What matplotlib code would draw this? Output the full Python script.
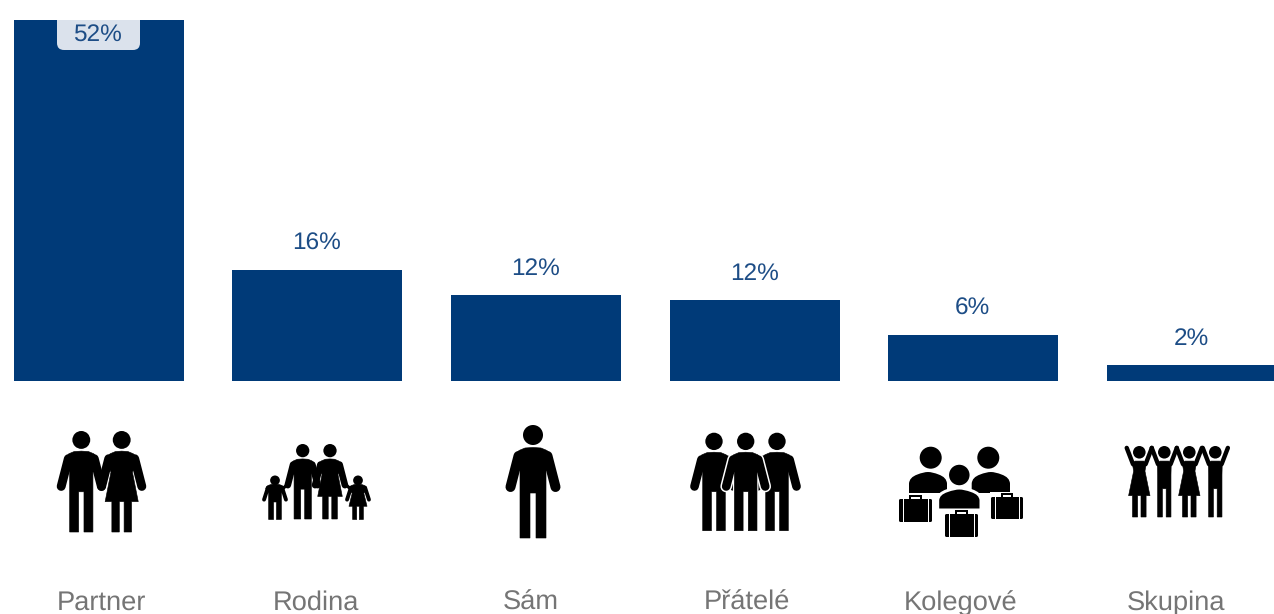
import matplotlib
matplotlib.use('Agg')
import matplotlib.pyplot as plt
from matplotlib.patches import Polygon, Circle, Rectangle, FancyBboxPatch, PathPatch
from matplotlib.path import Path

plt.rcParams['font.family'] = ['Liberation Sans', 'DejaVu Sans']
plt.rcParams['text.hinting'] = 'no_hinting'

# Data
categories = ['Partner', 'Rodina', 'Sám', 'Přátelé', 'Kolegové', 'Skupina']
values = [52, 16, 12.4, 11.7, 6.6, 2.3]
value_labels = ['52%', '16%', '12%', '12%', '6%', '2%']

BLUE = '#003a78'
TEXT_BLUE = '#1d4d86'
GREY = '#757575'
W, H = 1274, 614
PX = 72 / 100  # one pixel in points

fig = plt.figure(figsize=(W / 100, H / 100), dpi=100, facecolor='white')

# main axes, scaled so the bars land where they do in the picture
ax = fig.add_axes([0, 0, 1, 1])
step = 218.6
per_unit = 6.94
ax.set_xlim(-98.8 / step, (W - 98.8) / step)
ax.set_ylim(-(H - 381) / per_unit, 381 / per_unit)
ax.axis('off')
bars = ax.bar(range(len(values)), values, width=170 / step, color=BLUE, linewidth=0)

for i, (v, lab) in enumerate(zip(values, value_labels)):
    if i == 0:
        continue
    ax.annotate(lab, (i, v), xytext=(-0.5 * PX, 20 * PX), textcoords='offset points',
                ha='center', va='baseline', fontsize=17.6, color=TEXT_BLUE)

# overlay in pixel coordinates for the pictograms and category names
pic = fig.add_axes([0, 0, 1, 1], facecolor='none')
pic.set_xlim(0, W)
pic.set_ylim(H, 0)
pic.axis('off')

# label box on the first bar, only the lower corners show
box = FancyBboxPatch((57, 5), 83, 45, boxstyle='round,pad=0,rounding_size=7',
                     fc='#dbe2ec', ec='none', zorder=5)
pic.add_patch(box)
box.set_clip_path(Rectangle((0, 20), W, 60, transform=pic.transData))
pic.text(97.5, 42, value_labels[0], ha='center', va='baseline', fontsize=17.6,
         color=TEXT_BLUE, zorder=6)

label_x = [101, 316, 531, 746.5, 961, 1176.5]
for x, name in zip(label_x, categories):
    pic.text(x, 610, name, ha='center', va='baseline', fontsize=19.6, color=GREY)


MAN = [(0, 22.5), (8, 23), (14, 25.5), (18, 30), (19, 34), (13, 46), (13, 113), (3, 113), (3, 68),
       (-3, 68), (-3, 113), (-13, 113), (-13, 46), (-19, 34), (-18, 30), (-14, 25.5), (-8, 23)]
WOMAN = [(0, 22.5), (7, 23), (13, 25.5), (17, 30), (18, 34), (12, 46), (18.5, 79), (11, 79), (11, 113),
         (2.7, 113), (2.7, 79), (-2.7, 79), (-2.7, 113), (-11, 113), (-11, 79),
         (-18.5, 79), (-12, 46), (-18, 34), (-17, 30), (-13, 25.5), (-7, 23)]
MAN_UP = [(-7, 24), (7, 24), (11, 28), (10.6, 46), (10.6, 113), (3, 113), (3, 68),
          (-3, 68), (-3, 113), (-10.6, 113), (-10.6, 46), (-11, 28)]
WOMAN_UP = [(-7, 24), (7, 24), (11, 28), (9, 40), (17, 79), (10.8, 79), (10.8, 113), (2.7, 113),
            (2.7, 79), (-2.7, 79), (-2.7, 113), (-10.8, 113), (-10.8, 79), (-17, 79), (-9, 40),
            (-11, 28)]


def person(cx, top, h, woman=False, up=False, halo=0, z=3, wx=1.0, head=1.0):
    """Draw one standing figure, h is the height in pixels"""
    s = h / 113
    if up:
        shape = WOMAN_UP if woman else MAN_UP
        arms = [((10, 29), (20, 3)), ((-10, 29), (-20, 3))]
        arm_w = 7 * s
    else:
        shape = WOMAN if woman else MAN
        arms = [((14.5, 31), (22.5, 62)), ((-14.5, 31), (-22.5, 62))]
        arm_w = 10 * s
    pts = [(cx + x * s * wx, top + y * s) for x, y in shape]
    arm_pts = [[(cx + x * s * wx, top + y * s) for x, y in a] for a in arms]
    if halo:
        pic.add_patch(Polygon(pts, closed=True, fc='white', ec='white', lw=2 * halo * PX,
                              joinstyle='round', zorder=z))
        for a in arm_pts:
            pic.plot(*zip(*a), color='white', lw=(arm_w + 2 * halo) * PX,
                     solid_capstyle='round', zorder=z)
    pic.add_patch(Polygon(pts, closed=True, fc='black', ec='black', lw=0.6 * PX,
                          joinstyle='round', zorder=z + 0.1))
    for a in arm_pts:
        pic.plot(*zip(*a), color='black', lw=arm_w * PX, solid_capstyle='round', zorder=z + 0.1)
    r = 10 * s * head
    pic.add_patch(Circle((cx, top + r), r, fc='black', ec='none', zorder=z + 0.1))


def bust(x0, x1, y0, y1, halo=0, z=3):
    """Head and shoulders outline used in the colleagues icon"""
    mid = (x0 + x1) / 2
    w = x1 - x0
    h = y1 - y0
    verts = [(x0, y1), (x0, y0 + h * 0.55),
             (x0 + w * 0.01, y0 + h * 0.25), (x0 + w * 0.22, y0 + h * 0.12),
             (mid - w * 0.12, y0), (mid, y0),
             (mid + w * 0.12, y0), (x1 - w * 0.22, y0 + h * 0.12),
             (x1 - w * 0.01, y0 + h * 0.25), (x1, y0 + h * 0.55),
             (x1, y1), (x0, y1)]
    codes = [Path.MOVETO, Path.LINETO, Path.CURVE3, Path.CURVE3, Path.CURVE3, Path.CURVE3,
             Path.CURVE3, Path.CURVE3, Path.CURVE3, Path.CURVE3, Path.LINETO, Path.CLOSEPOLY]
    pic.add_patch(PathPatch(Path(verts, codes), fc='black',
                            ec='white' if halo else 'none', lw=2 * halo * PX, zorder=z))


def case(x0, y0, x1, y1, z=5):
    """Briefcase: black body, two pale straps and a small handle"""
    w = x1 - x0
    pic.add_patch(Rectangle((x0 - 1.5, y0 - 5), w + 3, y1 - y0 + 6.5, fc='white', ec='none', zorder=z))
    pic.add_patch(Rectangle((x0 + w * 0.34, y0 - 3.5), w * 0.32, 5, fc='white', ec='black',
                            lw=2 * PX, zorder=z + 0.05))
    pic.add_patch(FancyBboxPatch((x0, y0), w, y1 - y0, boxstyle='round,pad=0,rounding_size=1.5',
                                 fc='black', ec='none', zorder=z + 0.1))
    for fx in (0.13, 0.87):
        pic.plot([x0 + w * fx] * 2, [y0, y1], color='white', lw=1.0 * PX, zorder=z + 0.2)


# Partner
person(81.3, 431, 101)
person(121.7, 431, 101, woman=True)

# Rodina
person(302.7, 444, 75)
person(330, 444, 75, woman=True)
person(275, 475.5, 44, wx=1.25, head=1.25)
person(358, 475.5, 44, woman=True, wx=1.25, head=1.25)
for line in ([(288, 484), (279, 492)], [(345, 484), (354, 492)]):
    pic.plot(*zip(*line), color='black', lw=3.2 * PX, solid_capstyle='round', zorder=3)

# Sam
person(533, 425, 113)

# Pratele
person(714, 432.7, 98)
person(777, 432.7, 98)
person(745.7, 432.7, 98, halo=1.5, z=4)

# Kolegove
for cx, x0, x1 in ((930.7, 909, 947), (988.3, 971.7, 1010)):
    pic.add_patch(Circle((cx, 457.7), 11, fc='black', ec='none', zorder=3))
    bust(x0, x1, 472, 493, z=3)
pic.add_patch(Circle((959.3, 475), 11, fc='black', ec='white', lw=1.5 * PX, zorder=4))
bust(937.7, 981, 488, 510, halo=1.5, z=4)
case(899, 499, 932, 522)
case(945, 514, 978, 537)
case(991, 497, 1023, 519)

# Skupina
for i, cx in enumerate([1139.3, 1164.3, 1189.3, 1215.3]):
    person(cx, 446, 71, woman=(i % 2 == 0), up=True)

fig.savefig('out.png', dpi=100, facecolor='white')
plt.close(fig)
